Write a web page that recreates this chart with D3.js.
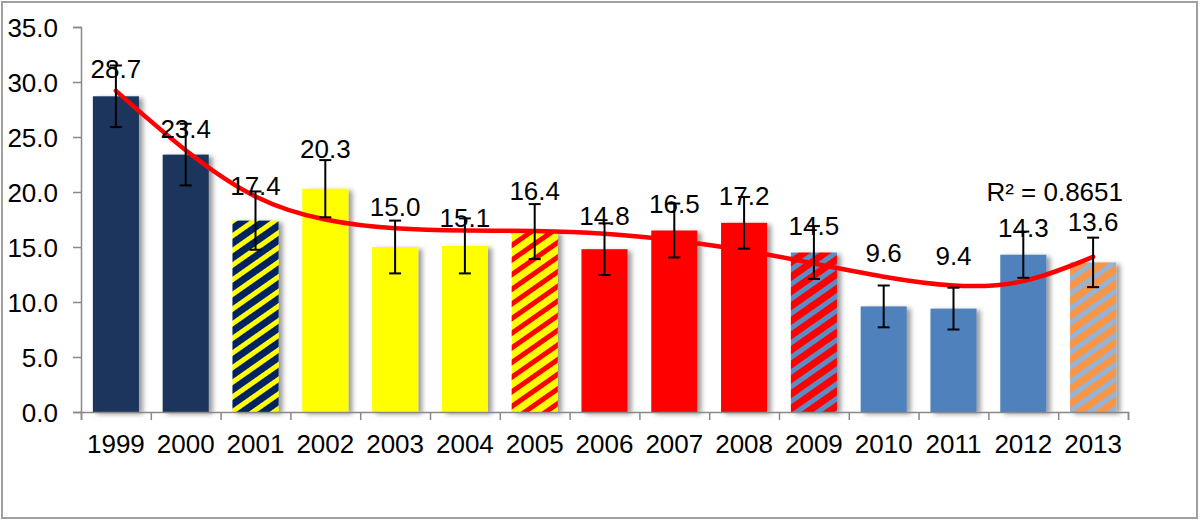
<!DOCTYPE html>
<html>
<head>
<meta charset="utf-8">
<script src="https://cdn.jsdelivr.net/npm/d3@7"></script>
<style>
  body { margin: 0; background: #fff; }
  svg { display: block; font-family: "Liberation Sans", Arial, sans-serif; }
  .axis path, .axis line { stroke: #898989; stroke-width: 1.5; }
  .axis text { font-size: 26px; fill: #000; }
</style>
</head>
<body>
<svg id="chart" width="1200" height="521"></svg>
<script>
// chart data
var years = ["1999", "2000", "2001", "2002", "2003", "2004", "2005", "2006", "2007", "2008", "2009", "2010", "2011", "2012", "2013"];
var values = [28.7, 23.4, 17.4, 20.3, 15.0, 15.1, 16.4, 14.8, 16.5, 17.2, 14.5, 9.6, 9.4, 14.3, 13.6];
var errors = [2.8, 2.8, 2.65, 2.6, 2.4, 2.5, 2.5, 2.35, 2.45, 2.35, 2.4, 1.9, 1.9, 2.1, 2.25];
var trend = [29.2, 23.8, 19.6, 17.5, 16.7, 16.5, 16.45, 16.2, 15.6, 14.7, 13.5, 12.3, 11.5, 11.9, 14.1];
var yTicks = [0, 5, 10, 15, 20, 25, 30, 35];
var rSquared = "R² = 0.8651";

//bar looks
var fills = ["#1a365d", "#1a365d", "url(#h2001)", "#ffff00", "#ffff00", "#ffff00", "url(#h2005)",
  "#ff0000", "#ff0000", "#ff0000", "url(#h2009)", "#4f81bd", "#4f81bd", "#4f81bd", "url(#h2013)"];
var hatches = [
  { id: "h2001", bg: "#002060", fg: "#ffff00" },
  { id: "h2005", bg: "#ffff00", fg: "#ff0000" },
  { id: "h2009", bg: "#ff0000", fg: "#5b8cc6" },
  { id: "h2013", bg: "#f79646", fg: "#95b3d7" }
];
// how far (px) each value label sits above its bar
var labelLift = [18, 17, 26, 31, 31, 19, 32, 24, 17.5, 18, 17.5, 44, 44, 17.5, 31];

var svg = d3.select("#chart");
var defs = svg.append("defs");

hatches.forEach(function(h)
  {
    var p = defs.append("pattern")
      .attr("id", h.id)
      .attr("patternUnits", "userSpaceOnUse")
      .attr("width", 12).attr("height", 12)
      .attr("patternTransform", "rotate(55)");
    p.append("rect").attr("width", 12).attr("height", 12).attr("fill", h.bg);
    p.append("rect").attr("width", 5).attr("height", 12).attr("fill", h.fg);
  });

var shadow = defs.append("filter").attr("id", "shadow")
  .attr("x", "-20%").attr("y", "-20%").attr("width", "150%").attr("height", "140%");
shadow.append("feDropShadow")
  .attr("dx", 4).attr("dy", 2).attr("stdDeviation", 2.5)
  .attr("flood-color", "#000").attr("flood-opacity", 0.4);

// outer frame
svg.append("rect")
  .attr("x", 2).attr("y", 2).attr("width", 1195).attr("height", 516)
  .attr("fill", "none").attr("stroke", "#a0a0a0").attr("stroke-width", 2);

var plotL = 81, plotR = 1128, plotT = 27, plotB = 412;

var x = d3.scaleBand().domain(years).range([plotL, plotR]).paddingInner(0.34).paddingOuter(0.17);
var xEdge = d3.scaleLinear().domain([0, years.length]).range([plotL, plotR]);
var y = d3.scaleLinear().domain([0, 35]).range([plotB, plotT]);
var cx = function(d) { return x(d) + x.bandwidth() / 2; };

// bars
svg.append("g").selectAll("rect")
  .data(years)
  .enter().append("rect")
    .attr("x", function(d) { return x(d); })
    .attr("y", function(d, i) { return y(values[i]); })
    .attr("width", x.bandwidth())
    .attr("height", function(d, i) { return plotB - y(values[i]); })
    .attr("fill", function(d, i) { return fills[i]; })
    .attr("filter", "url(#shadow)");

// axes
svg.append("g")
  .attr("class", "axis")
  .attr("transform", "translate(" + plotL + ",0)")
  .call(d3.axisLeft(y).tickValues(yTicks).tickFormat(d3.format(".1f")).tickSize(8).tickPadding(15))
  .selectAll("text").attr("dy", "0.36em");

svg.append("g")
  .attr("class", "axis")
  .attr("transform", "translate(0," + plotB + ")")
  .call(d3.axisBottom(xEdge).tickValues(d3.range(years.length + 1)).tickFormat("").tickSize(8));

svg.append("g").selectAll("text")
  .data(years)
  .enter().append("text")
    .attr("x", cx)
    .attr("y", 453)
    .attr("text-anchor", "middle")
    .attr("font-size", 26)
    .text(function(d) { return d; });

// trendline
var line = d3.line()
  .x(function(d, i) { return cx(years[i]); })
  .y(function(d) { return y(d); })
  .curve(d3.curveNatural);

svg.append("path")
  .datum(trend)
  .attr("d", line)
  .attr("fill", "none")
  .attr("stroke", "#ff0000")
  .attr("stroke-width", 4.5)
  .attr("stroke-linecap", "round");

// error bars
var err = svg.append("g").attr("stroke", "#000").attr("stroke-width", 2);
years.forEach(function(d, i)
  {
    var hi = y(values[i] + errors[i]), lo = y(values[i] - errors[i]), c = cx(d);
    err.append("line").attr("x1", c).attr("x2", c).attr("y1", hi).attr("y2", lo);
    err.append("line").attr("x1", c - 6).attr("x2", c + 6).attr("y1", hi).attr("y2", hi);
    err.append("line").attr("x1", c - 6).attr("x2", c + 6).attr("y1", lo).attr("y2", lo);
  });

// value labels
svg.append("g").selectAll("text")
  .data(years)
  .enter().append("text")
    .attr("x", cx)
    .attr("y", function(d, i) { return y(values[i]) - labelLift[i]; })
    .attr("text-anchor", "middle")
    .attr("font-size", 26)
    .text(function(d, i) { return values[i].toFixed(1); });

svg.append("text")
  .attr("x", 1123)
  .attr("y", 201)
  .attr("text-anchor", "end")
  .attr("font-size", 26)
  .text(rSquared);
</script>
</body>
</html>
